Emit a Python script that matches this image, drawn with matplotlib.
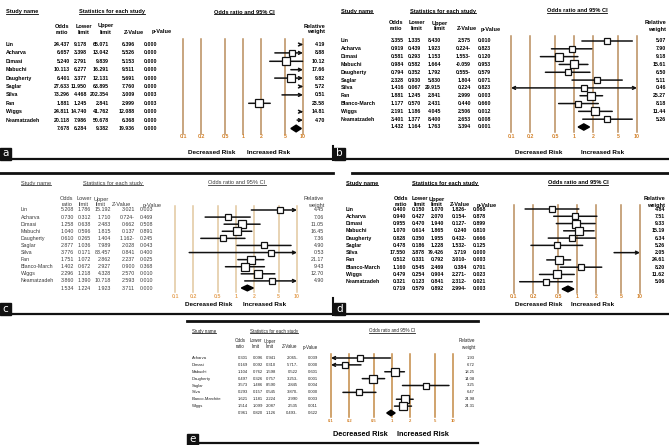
import matplotlib
matplotlib.use("Agg")
import matplotlib.pyplot as plt
from matplotlib import font_manager
from matplotlib.patches import Rectangle
from matplotlib.ticker import NullLocator
from matplotlib.transforms import blended_transform_factory

installed = {f.name for f in font_manager.fontManager.ttflist}
NARROW = "Liberation Sans Narrow" in installed
plt.rcParams["font.family"] = ["Liberation Sans Narrow" if NARROW else "Liberation Sans", "DejaVu Sans"]

W, H = 669, 445

# ---------------- data ----------------
ticks = [0.1, 0.2, 0.5, 1, 2, 5, 10]
tick_labels = ["0.1", "0.2", "0.5", "1", "2", "5", "10"]

# panel a
study_a = ["Lin", "Acharva", "Dimasi", "Mabuchi", "Daugherty", "Saglar", "Silva", "Fan", "Wiggs", "Neamatzadeh"]
odds_a = [24.437, 6.657, 5.240, 10.113, 6.401, 27.633, 73.296, 1.881, 24.811, 20.118]
lower_a = [9.178, 3.398, 2.791, 6.277, 3.377, 11.950, 4.468, 1.245, 14.740, 7.986]
upper_a = [65.071, 13.042, 9.839, 16.291, 12.131, 63.895, 202.354, 2.841, 41.762, 50.678]
z_a = ["6.396", "5.526", "5.153", "9.511", "5.691", "7.760", "3.009", "2.999", "12.088", "6.368"]
p_a = [0.000, 0.000, 0.000, 0.000, 0.000, 0.000, 0.003, 0.003, 0.000, 0.000]
weight_a = [4.19, 8.88, 10.12, 17.66, 9.82, 5.72, 0.51, 23.58, 14.81, 4.70]
summary_a = [7.678, 6.284, 9.382, "19.936", 0.000]

# panel b
study_b = ["Lin", "Acharva", "Dimasi", "Mabuchi", "Daugherty", "Saglar", "Silva", "Fan",
           "Blanco-March", "Wiggs", "Neamatzadeh"]
odds_b = [3.355, 0.919, 0.581, 0.984, 0.794, 2.328, 1.416, 1.881, 1.177, 2.191, 3.401]
lower_b = [1.335, 0.439, 0.293, 0.582, 0.352, 0.930, 0.067, 1.245, 0.570, 1.186, 1.377]
upper_b = [8.430, 1.923, 1.153, 1.664, 1.792, 5.830, 29.915, 2.841, 2.431, 4.045, 8.400]
z_b = ["2.575", "0.224-", "1.553-", "-0.059", "0.555-", "1.804", "0.224", "2.999", "0.440", "2.506", "2.653"]
p_b = [0.010, 0.823, 0.120, 0.953, 0.579, 0.071, 0.823, 0.003, 0.660, 0.012, 0.008]
weight_b = [5.07, 7.90, 9.18, 15.61, 6.50, 5.11, 0.46, 25.27, 8.18, 11.44, 5.26]
summary_b = [1.432, 1.164, 1.763, "3.394", 0.001]

# panel c
study_c = study_b
odds_c = [5.208, 0.730, 1.258, 1.040, 0.610, 2.877, 3.776, 1.751, 1.402, 2.296, 3.860]
lower_c = [1.786, 0.312, 0.638, 0.596, 0.265, 1.036, 0.171, 1.072, 0.672, 1.218, 1.390]
upper_c = [15.192, 1.710, 2.483, 1.815, 1.404, 7.989, 83.457, 2.862, 2.927, 4.328, 10.718]
z_c = ["3.021", "0.724-", "0.662", "0.137", "1.162-", "2.028", "0.841", "2.237", "0.900", "2.570", "2.593"]
p_c = [0.003, 0.469, 0.508, 0.891, 0.245, 0.043, 0.400, 0.025, 0.368, 0.010, 0.010]
weight_c = [4.45, 7.06, 11.05, 16.45, 7.36, 4.90, 0.53, 21.17, 9.43, 12.70, 4.90]
summary_c = [1.534, 1.224, 1.923, "3.711", 0.000]

# panel d
study_d = study_b
odds_d = [0.400, 0.940, 0.955, 1.070, 0.828, 0.478, 17.550, 0.512, 1.160, 0.479, 0.321]
lower_d = [0.150, 0.427, 0.470, 0.614, 0.350, 0.186, 3.878, 0.331, 0.545, 0.254, 0.123]
upper_d = [1.070, 2.070, 1.940, 1.865, 1.955, 1.228, 79.426, 0.792, 2.469, 0.904, 0.841]
z_d = ["1.826-", "0.154-", "0.127-", "0.240", "0.432-", "1.532-", "3.719", "3.010-", "0.384", "2.271-", "2.312-"]
p_d = [0.068, 0.878, 0.899, 0.810, 0.666, 0.125, 0.000, 0.003, 0.701, 0.023, 0.021]
weight_d = [4.84, 7.51, 9.33, 15.19, 6.34, 5.26, 2.05, 24.61, 8.20, 11.62, 5.06]
summary_d = [0.719, 0.579, 0.892, "2.994-", 0.003]

# panel e
study_e = ["Acharva", "Dimasi", "Mabuchi", "Daugherty", "Saglar", "Silva", "Blanco-Marchite", "Wiggs"]
odds_e = [0.301, 0.169, 1.104, 0.497, 3.573, 0.293, 1.621, 1.514]
lower_e = [0.096, 0.092, 0.762, 0.326, 1.486, 0.157, 1.181, 1.099]
upper_e = [0.941, 0.310, 1.598, 0.757, 8.590, 0.545, 2.224, 2.087]
z_e = ["2.065-", "5.717-", "0.522", "3.253-", "2.845", "3.870-", "2.990", "2.535"]
p_e = [0.039, 0.000, 0.601, 0.001, 0.004, 0.000, 0.003, 0.011]
weight_e = [1.93, 6.72, 18.25, 14.08, 3.25, 6.47, 24.98, 24.31]
summary_e = [0.961, 0.820, 1.126, "0.493-", 0.622]

# ---------------- layout (pixel positions) ----------------
FS = 4.3 if NARROW else 3.8
FS_E = 3.4 if NARROW else 3.0

layout_a = dict(x01=183, x10=303, yfirst=44.5, ylast=128.5, ytick=136.5, ydr=152.5,
                name_x=6, cols=[70, 87, 109, 135, 157], wx=325, ytitle=12, yh1=26, yh2=32,
                stats_c=112, ci_c=244, hcols=[62, 84, 106, 134, 162], dr=235, ir=247,
                fs=FS, bold=True, tc="black", ref="#b98d5c", tickc="#d4832c", letter="a",
                box=(0, 148), rule=(12, 332, 159))
layout_b = dict(x01=511, x10=637, yfirst=41, ylast=127, ytick=136, ydr=152.5,
                name_x=341, cols=[404, 421, 441, 471, 491], wx=666, ytitle=11, yh1=23, yh2=29,
                stats_c=443, ci_c=577, hcols=[396, 417, 440, 467, 491], dr=562, ir=581,
                fs=FS, bold=True, tc="black", ref="#b98d5c", tickc="#d4832c", letter="b",
                box=(334, 148), rule=(346, 669, 159))
layout_c = dict(x01=175, x10=297, yfirst=210, ylast=288, ytick=296, ydr=305,
                name_x=21, cols=[74, 91, 111, 135, 153], wx=324, ytitle=183, yh1=199, yh2=205,
                stats_c=113, ci_c=237, hcols=[67, 84, 101, 121, 152], dr=232, ir=243,
                fs=FS, bold=False, tc="#3a3a3a", ref="#e2c79f", tickc="#e6a45a", letter="c",
                box=(0, 303), rule=(12, 332, 314))
layout_d = dict(x01=514, x10=640, yfirst=209, ylast=289, ytick=296, ydr=305,
                name_x=346, cols=[406, 425, 444, 467, 486], wx=665, ytitle=183, yh1=199, yh2=205,
                stats_c=445, ci_c=578, hcols=[401, 420, 437, 460, 487], dr=562, ir=571,
                fs=FS, bold=True, tc="black", ref="#b98d5c", tickc="#d4832c", letter="d",
                box=(334, 303), rule=(346, 669, 314))
layout_e = dict(x01=331, x10=453, yfirst=358, ylast=413, ytick=422, ydr=434,
                name_x=192, cols=[248, 263, 276, 298, 318], wx=475, ytitle=331, yh1=341, yh2=347,
                stats_c=274, ci_c=392, hcols=[240, 256, 270, 290, 310], dr=388, ir=397,
                fs=FS_E, bold=False, tc="#222222", ref="#c48a45", tickc="#d4832c", letter="e",
                box=(187, 434), rule=(196, 478, 443), big_dr=True, inc_text="Increased Risk")

fig = plt.figure(figsize=(W / 100, H / 100), dpi=100)
bg = fig.add_axes([0, 0, 1, 1])
bg.set_xlim(0, W)
bg.set_ylim(H, 0)
bg.axis("off")

underline = []


def draw_panel(study, odds, lower, upper, zval, pval, weight, summary, L):
    n = len(study) + 1
    ax = fig.add_axes([L["x01"] / W, 1 - L["ylast"] / H,
                       (L["x10"] - L["x01"]) / W, (L["ylast"] - L["yfirst"]) / H])
    ax.set_xscale("log")
    ax.set_xlim(0.1, 10)
    ax.set_ylim(n - 1, 0)
    ax.patch.set_alpha(0)
    for s in ax.spines.values():
        s.set_visible(False)
    ax.set_yticks([])
    ax.set_xticks(ticks)
    ax.set_xticklabels(tick_labels)
    ax.xaxis.set_minor_locator(NullLocator())
    ax.tick_params(axis="x", length=0, pad=(L["ytick"] - L["ylast"] - 2.5) * 0.72,
                   labelsize=L["fs"], labelcolor=L["tickc"])
    for lab in ax.get_xticklabels():
        lab.set_fontweight("bold")

    # reference lines at each tick
    for t in ticks:
        ax.plot([t, t], [-0.6, n - 1 + 0.6], color=L["ref"], lw=1.1, clip_on=False, zorder=1)

    fw = "bold" if L["bold"] else "normal"
    tr = blended_transform_factory(bg.transData, ax.transData)
    txt = dict(transform=tr, va="center", fontsize=L["fs"], fontweight=fw, color=L["tc"])

    for i, name in enumerate(study):
        lo, hi, o = lower[i], upper[i], odds[i]
        a, b = max(lo, 0.1), min(hi, 10)
        if lo >= 10:
            a = 10 * 0.9
        style = {(True, True): "<->", (False, True): "->", (True, False): "<-",
                 (False, False): "-"}[(lo < 0.1, hi > 10)]
        ax.annotate("", xy=(b, i), xytext=(a, i),
                    arrowprops=dict(arrowstyle=style, lw=1.1, color="#111111",
                                    shrinkA=0, shrinkB=0, mutation_scale=5),
                    annotation_clip=False, zorder=2)
        if 0.1 <= o <= 10:
            ax.plot(o, i, "s", ms=4.4 + 0.07 * weight[i], mfc="white", mec="#111111",
                    mew=0.9, zorder=3, clip_on=False)

        vals = ["%.3f" % o, "%.3f" % lo, "%.3f" % hi, zval[i], "%.3f" % pval[i]]
        ax.text(L["name_x"], i, name, ha="left", **txt)
        for x, v in zip(L["cols"], vals):
            ax.text(x, i, v, ha="right", **txt)
        ax.text(L["wx"], i, "%.2f" % weight[i], ha="right", **txt)

    # summary row
    so, slo, shi, sz, sp = summary
    y = n - 1
    ax.fill([slo, so, shi, so], [y, y - 0.4, y, y + 0.4], color="black", zorder=3, clip_on=False)
    for x, v in zip(L["cols"], ["%.3f" % so, "%.3f" % slo, "%.3f" % shi, sz, "%.3f" % sp]):
        ax.text(x, y, v, ha="right", **txt)

    # headers
    hs = L["fs"] * 1.08
    hd = dict(va="center", fontsize=hs, fontweight=fw, color=L["tc"])
    underline.append(bg.text(L["name_x"], L["ytitle"], "Study name", ha="left", **hd))
    underline.append(bg.text(L["stats_c"], L["ytitle"], "Statistics for each study", ha="center", **hd))
    underline.append(bg.text(L["ci_c"], L["ytitle"], "Odds ratio and 95% CI", ha="center", **hd))
    tops = ["Odds", "Lower", "Upper", "", ""]
    bots = ["ratio", "limit", "limit", "Z-Value", "p-Value"]
    for x, t, b in zip(L["hcols"], tops, bots):
        if t:
            bg.text(x, L["yh1"], t, ha="center", **hd)
        bg.text(x, L["yh2"], b, ha="center", **hd)
    bg.text(L["wx"], L["yh1"], "Relative", ha="right", **hd)
    bg.text(L["wx"], L["yh2"], "weight", ha="right", **hd)

    # risk labels
    ds = (6.2 if NARROW else 5.3) if L.get("big_dr") else (5.5 if NARROW else 4.6)
    bg.text(L["dr"], L["ydr"], "Decreased Risk", ha="right", va="center", fontsize=ds,
            fontweight="bold", color="black")
    bg.text(L["ir"], L["ydr"], L.get("inc_text", "Increased Rsk"), ha="left", va="center",
            fontsize=ds, fontweight="bold", color="black")

    # letter box and bottom rule
    bx, by = L["box"]
    bg.add_patch(Rectangle((bx, by), 11, 11.5, color="#111111", zorder=5))
    bg.text(bx + 5.5, by + 5.5, L["letter"], color="white", fontsize=7.5, ha="center",
            va="center", family="DejaVu Sans", zorder=6)
    x0, x1, yr = L["rule"]
    bg.plot([x0, x1], [yr, yr], color="#111111", lw=1.6)


draw_panel(study_a, odds_a, lower_a, upper_a, z_a, p_a, weight_a, summary_a, layout_a)
draw_panel(study_b, odds_b, lower_b, upper_b, z_b, p_b, weight_b, summary_b, layout_b)
draw_panel(study_c, odds_c, lower_c, upper_c, z_c, p_c, weight_c, summary_c, layout_c)
draw_panel(study_d, odds_d, lower_d, upper_d, z_d, p_d, weight_d, summary_d, layout_d)
draw_panel(study_e, odds_e, lower_e, upper_e, z_e, p_e, weight_e, summary_e, layout_e)

# top rules of the lower panels and separators
bg.plot([0, 333], [173, 173], color="#111111", lw=2)
bg.plot([352, 669], [173, 173], color="#111111", lw=2)
bg.plot([187, 478], [321, 321], color="#111111", lw=2)
bg.plot([332.5, 332.5], [146, 160], color="#111111", lw=1.5)
bg.plot([332.5, 332.5], [298, 315], color="#111111", lw=1.5)

# underline the section headers
fig.canvas.draw()
r = fig.canvas.get_renderer()
inv = bg.transData.inverted()
for t in underline:
    bb = t.get_window_extent(r)
    (xa, ya), (xb, yb) = inv.transform([[bb.x0, bb.y0], [bb.x1, bb.y1]])
    yy = max(ya, yb) - 0.3
    bg.plot([xa, xb], [yy, yy], color=t.get_color(), lw=0.6)

fig.savefig("out.png", dpi=100)
